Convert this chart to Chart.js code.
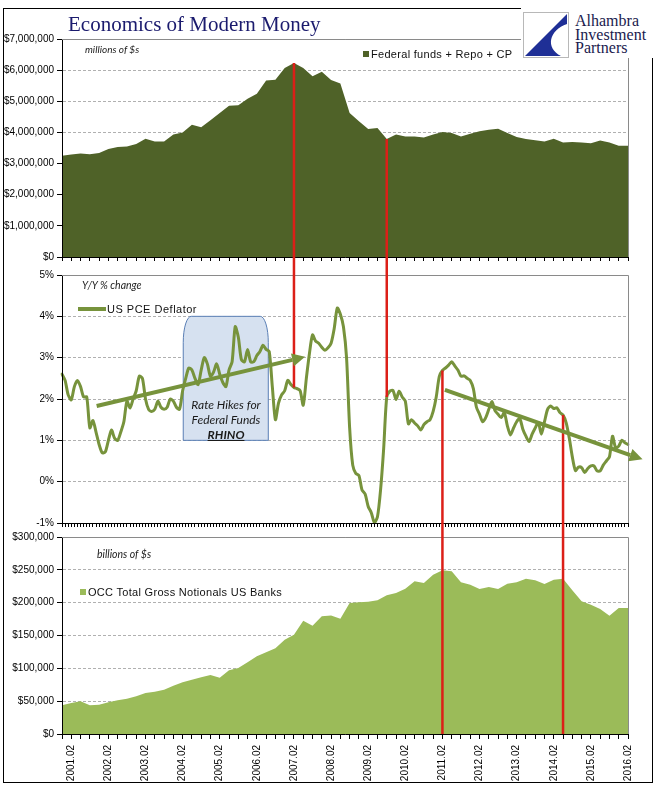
<!DOCTYPE html>
<html><head><meta charset="utf-8">
<script src="https://cdn.jsdelivr.net/npm/chart.js@4.4.1/dist/chart.umd.min.js"></script>
<style>
html,body{margin:0;padding:0;background:#fff;}
#wrap{position:relative;width:657px;height:801px;overflow:hidden;background:#fff;}
canvas{position:absolute;left:0;}
.t{position:absolute;white-space:nowrap;}
.it{font-family:Lato,"Open Sans",sans-serif;font-style:italic;color:#222;}
.lg{font-family:"Liberation Sans",Arial,sans-serif;font-size:11px;color:#111;letter-spacing:0.3px;}
</style></head><body><div id="wrap">
<div style="position:absolute;left:3px;top:8px;width:648px;height:773px;border:1.5px solid #000;"></div>
<canvas id="c1" width="657" height="270" style="top:0"></canvas>
<canvas id="c2" width="657" height="280" style="top:262px"></canvas>
<canvas id="c3" width="657" height="262" style="top:524px"></canvas>
<canvas id="ov" width="657" height="801" style="top:0"></canvas>

<div class="t" style="left:68px;top:12px;font-family:'Liberation Serif','Times New Roman',serif;font-size:21px;line-height:24px;color:#1b1b6e;">Economics of Modern Money</div>

<div style="position:absolute;left:521px;top:0;width:136px;height:58px;background:#fff;"></div>
<svg style="position:absolute;left:523px;top:12px" width="46" height="46" viewBox="0 0 46 46">
<rect x="0.5" y="0.5" width="45" height="45" fill="#fff" stroke="#b8b8b8" stroke-width="1"/>
<path d="M44 2 L2 44 L38 44 C22 36 26 18 44 12 Z" fill="#1f2f96"/>
</svg>
<div class="t" style="left:575px;top:14px;font-family:'Liberation Serif',serif;font-size:16px;line-height:13.5px;color:#1a1a4e;">Alhambra<br>Investment<br>Partners</div>

<div class="t it" style="left:85px;top:43px;font-size:10px;line-height:12px;">millions of $s</div>
<div style="position:absolute;left:363px;top:51px;width:6px;height:6px;background:#4f6228;"></div>
<div class="t lg" style="left:371px;top:47px;line-height:14px;">Federal funds + Repo + CP</div>

<div class="t it" style="left:82px;top:279px;font-size:10.5px;line-height:12px;">Y/Y % change</div>
<div style="position:absolute;left:78px;top:307px;width:28px;height:4px;background:#77933c;"></div>
<div class="t lg" style="left:107px;top:302px;line-height:14px;letter-spacing:0.5px;">US PCE Deflator</div>

<div class="t it" style="left:146px;top:397px;width:160px;text-align:center;font-size:12px;line-height:15px;color:#1a1a1a;">Rate Hikes for<br>Federal Funds<br><b style="text-decoration:underline;">RHINO</b></div>

<div class="t it" style="left:97px;top:548px;font-size:10.5px;line-height:12px;">billions of $s</div>
<div style="position:absolute;left:80px;top:589px;width:6px;height:6px;background:#9bbb59;"></div>
<div class="t lg" style="left:88px;top:585px;line-height:14px;">OCC Total Gross Notionals US Banks</div>
</div>
<script>
// ---------- DATA ----------
// quarterly categories 2000.11 .. 2016.02 (62), monthly categories 2000.11 .. 2016.02 (184)
const quarterLabels = [];
const monthLabels = [];
(function(){
  let y = 2000, mo = 11;
  for (let k = 0; k < 184; k++) {
    const lab = y + '.' + String(mo).padStart(2, '0');
    monthLabels.push(lab);
    if (k % 3 === 0) quarterLabels.push(lab);
    mo++; if (mo > 12) { mo = 1; y++; }
  }
})();
const yearTickSuffix = '.02';

// Federal funds + Repo + CP (millions of $)
const moneyValues = [3250000,3290000,3320000,3300000,3340000,3470000,3530000,3550000,3630000,3800000,
  3710000,3710000,3930000,4000000,4250000,4170000,4390000,4620000,4860000,4870000,
  5080000,5240000,5670000,5690000,6070000,6230000,6070000,5800000,5950000,5680000,
  5570000,4620000,4360000,4110000,4140000,3790000,3930000,3870000,3870000,3840000,
  3930000,4010000,3980000,3870000,3960000,4040000,4090000,4120000,3980000,3850000,
  3790000,3750000,3710000,3800000,3680000,3690000,3680000,3650000,3740000,3680000,
  3570000,3570000];

// US PCE Deflator, Y/Y %
const pceValues = [2.6,2.45,2.1,1.98,2.3,2.45,2.3,2.05,2.05,1.3,
  1.48,1.2,0.9,0.7,0.72,1.0,1.25,1.05,1.0,1.2,
  1.45,1.95,1.78,2.0,2.2,2.55,2.5,2.0,1.75,1.7,
  1.75,1.95,1.8,1.75,1.8,2.0,1.95,1.8,1.75,2.2,
  2.5,2.75,2.7,2.5,2.35,2.7,3.0,2.85,2.55,2.65,
  2.85,2.6,2.4,2.3,2.7,2.9,3.75,3.5,2.95,2.9,
  3.2,2.9,2.9,3.05,3.15,3.3,3.2,3.15,2.3,1.5,
  1.9,2.1,2.2,2.45,2.35,2.28,2.25,2.2,1.85,2.5,
  3.1,3.55,3.4,3.35,3.25,3.18,3.24,3.35,3.7,4.2,
  4.05,3.75,3.0,1.3,0.4,0.2,0.15,-0.2,-0.3,-0.6,
  -0.75,-0.99,-0.85,-0.2,0.8,2.05,2.19,2.21,1.99,2.19,
  2.05,1.95,1.4,1.5,1.42,1.35,1.25,1.38,1.45,1.5,
  1.7,2.05,2.55,2.69,2.75,2.82,2.9,2.8,2.7,2.55,
  2.56,2.5,2.45,2.25,1.8,1.63,1.45,1.55,1.75,1.94,
  1.72,1.63,1.55,1.67,1.35,1.13,1.3,1.45,1.53,1.27,
  1.1,0.97,1.15,1.3,1.43,1.15,1.45,1.75,1.83,1.77,
  1.79,1.67,1.61,1.43,1.06,0.6,0.27,0.35,0.34,0.22,
  0.32,0.38,0.38,0.26,0.26,0.4,0.5,0.6,1.1,0.82,
  0.86,1.0,0.94,0.9];

// OCC Total Gross Notionals US Banks (billions of $)
const notionalValues = [43700,47200,49700,43700,44700,48200,51300,53800,57400,62400,
  64500,67500,73600,78700,82700,86300,89800,85800,97000,100500,
  109100,118300,124400,130500,143700,151300,172600,165000,179200,180500,
  175600,199500,200500,201500,203600,211200,214700,221300,232500,229900,
  242600,249200,247700,231000,227400,220800,223900,220800,228900,231000,
  236500,234000,228400,235000,236500,218800,202000,196900,190400,180200,
  191900,191900];

// annotations (month index, value)
const markerMonths = [75, 105, 123, 162];        // red vertical lines
const trendArrows = [[[11.2, 1.83], [78.6, 3.02]], [[123.8, 2.22], [187.7, 0.54]]];
const rhinoBox = {fromMonth: 39.2, toMonth: 66.7, low: 1, high: 4};

// ---------- CHARTS ----------
Chart.defaults.font.family = "'Liberation Sans', Arial, sans-serif";
Chart.defaults.font.size = 10;
Chart.defaults.color = '#000';
Chart.defaults.animation = false;

function fmtMoney(v){ return '$' + String(Math.round(v)).replace(/\B(?=(\d{3})+(?!\d))/g, ','); }

const plotBorder = {id:'plotBorder', afterDraw(chart){
  const a = chart.chartArea, c = chart.ctx;
  c.save(); c.strokeStyle = '#8a8a8a'; c.lineWidth = 1;
  c.beginPath(); c.moveTo(a.left, Math.round(a.top) + 0.5); c.lineTo(Math.round(a.right) + 0.5, Math.round(a.top) + 0.5);
  c.lineTo(Math.round(a.right) + 0.5, a.bottom); c.stroke(); c.restore();
}};

function yAxis(min, max, step, cb){
  return {min, max, ticks:{stepSize:step, callback:cb, padding:3, font:{size:10}},
    grid:{color:'#b0b0b0', tickColor:'#000', tickLength:5, lineWidth:1},
    border:{color:'#000', width:1, dash:[3,2], z:1},
    afterFit(s){ s.width = 62; }};
}
function xAxis(h, showLabels, tl){
  return {type:'category', offset:false,
    ticks:{display:showLabels, autoSkip:false, minRotation:90, maxRotation:90, padding:6, font:{size:10},
      callback(v, i){ const l = this.getLabelForValue(v); return l.endsWith(yearTickSuffix) ? l : ''; }},
    grid:{drawOnChartArea:false, color:'#000', tickLength:tl, offset:false},
    border:{color:'#000', width:1, z:1},
    afterFit(s){ s.height = h; }};
}

const ch1 = new Chart(document.getElementById('c1'), {
  type:'line',
  data:{labels:quarterLabels, datasets:[{data:moneyValues, fill:'origin', backgroundColor:'#4f6228', borderWidth:0, pointRadius:0, tension:0}]},
  options:{responsive:false, plugins:{legend:{display:false}, tooltip:{enabled:false}},
    layout:{padding:{top:39, right:29, left:0, bottom:0}},
    scales:{x:xAxis(13, false, 4), y:yAxis(0, 7000000, 1000000, v => fmtMoney(v))}},
  plugins:[plotBorder]
});

const rhinoPlugin = {id:'rhino', beforeDatasetsDraw(chart){
  const c = chart.ctx, xs = chart.scales.x, ys = chart.scales.y;
  const x1 = xs.getPixelForValue(rhinoBox.fromMonth), x2 = xs.getPixelForValue(rhinoBox.toMonth);
  const yt = ys.getPixelForValue(rhinoBox.high), yb = ys.getPixelForValue(rhinoBox.low);
  const rx = 8, ry = 26;
  c.save(); c.beginPath();
  c.moveTo(x1, yb); c.lineTo(x1, yt + ry);
  c.ellipse(x1 + rx, yt + ry, rx, ry, 0, Math.PI, 1.5 * Math.PI);
  c.lineTo(x2 - rx, yt);
  c.ellipse(x2 - rx, yt + ry, rx, ry, 0, 1.5 * Math.PI, 2 * Math.PI);
  c.lineTo(x2, yb); c.closePath();
  c.fillStyle = '#d6e1f0'; c.fill(); c.strokeStyle = '#5a7fb5'; c.lineWidth = 1; c.stroke(); c.restore();
}};

const ch2 = new Chart(document.getElementById('c2'), {
  type:'line',
  data:{labels:monthLabels, datasets:[{data:pceValues, fill:false, borderColor:'#77933c', borderWidth:3, pointRadius:0, tension:0.25, borderJoinStyle:'round', borderCapStyle:'round'}]},
  options:{responsive:false, plugins:{legend:{display:false}, tooltip:{enabled:false}},
    layout:{padding:{top:13, right:29, left:0, bottom:0}},
    scales:{x:xAxis(19, false, 4), y:yAxis(-1, 5, 1, v => v + '%')}},
  plugins:[plotBorder, rhinoPlugin]
});

const ch3 = new Chart(document.getElementById('c3'), {
  type:'line',
  data:{labels:quarterLabels, datasets:[{data:notionalValues, fill:'origin', backgroundColor:'#9bbb59', borderWidth:0, pointRadius:0, tension:0}]},
  options:{responsive:false, plugins:{legend:{display:false}, tooltip:{enabled:false}},
    layout:{padding:{top:13, right:29, left:0, bottom:0}},
    scales:{x:xAxis(52, true, 5), y:yAxis(0, 300000, 50000, v => fmtMoney(v))}},
  plugins:[plotBorder]
});

// ---------- OVERLAY: red markers and trend arrows ----------
const ov = document.getElementById('ov').getContext('2d');
const off1 = 0, off2 = 262, off3 = 524;
function px2(m){ return ch2.scales.x.getPixelForValue(m); }
ov.save();
ov.strokeStyle = '#dc1f18'; ov.lineWidth = 2.5; ov.lineCap = 'butt';
markerMonths.forEach((m, k) => {
  const x = px2(m);
  let yTop, yBot;
  if (k < 2) {
    yTop = off1 + ch1.scales.y.getPixelForValue(moneyValues[m / 3]);
    yBot = off2 + ch2.scales.y.getPixelForValue(pceValues[m]);
  } else {
    yTop = off2 + ch2.scales.y.getPixelForValue(pceValues[m]);
    yBot = off3 + ch3.scales.y.getPixelForValue(0);
  }
  ov.beginPath(); ov.moveTo(x, yTop); ov.lineTo(x, yBot); ov.stroke();
});
ov.restore();

function drawArrow(c, x1, y1, x2, y2, color, w){
  const ang = Math.atan2(y2 - y1, x2 - x1), L = 13, H = 6.5;
  const bx = x2 - L * Math.cos(ang), by = y2 - L * Math.sin(ang);
  c.strokeStyle = color; c.lineWidth = w; c.lineCap = 'butt';
  c.beginPath(); c.moveTo(x1, y1); c.lineTo(bx, by); c.stroke();
  c.fillStyle = color; c.beginPath(); c.moveTo(x2, y2);
  c.lineTo(bx - H * Math.sin(ang), by + H * Math.cos(ang));
  c.lineTo(bx + H * Math.sin(ang), by - H * Math.cos(ang));
  c.closePath(); c.fill();
}
trendArrows.forEach(([a, b]) => {
  drawArrow(ov, px2(a[0]), off2 + ch2.scales.y.getPixelForValue(a[1]), px2(b[0]), off2 + ch2.scales.y.getPixelForValue(b[1]), '#77933c', 4);
});
</script>
</body></html>
